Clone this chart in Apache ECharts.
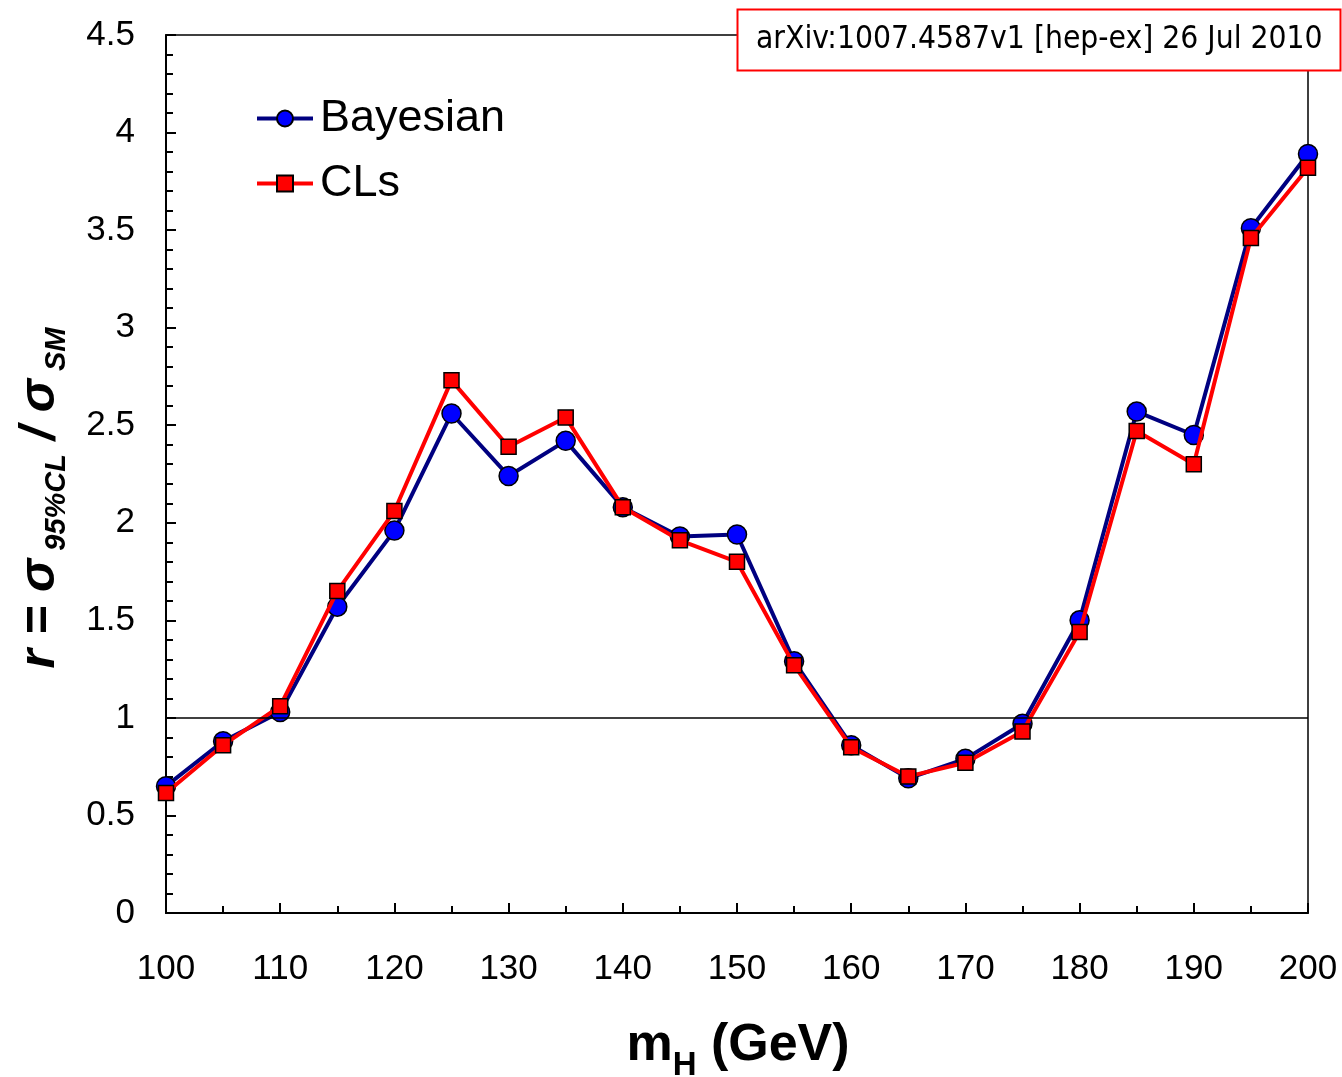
<!DOCTYPE html>
<html>
<head>
<meta charset="utf-8">
<script src="https://cdn.jsdelivr.net/npm/echarts@6/dist/echarts.min.js"></script>
<style>
html,body{margin:0;padding:0;background:#fff;}
#chart{width:1342px;height:1077px;}
</style>
</head>
<body>
<div id="chart"></div>
<script>
const massPoints = [100,105,110,115,120,125,130,135,140,145,150,155,160,165,170,175,180,185,190,195,200];
const bayesianValues = [0.65,0.88,1.03,1.57,1.96,2.56,2.24,2.42,2.08,1.93,1.94,1.29,0.86,0.69,0.79,0.97,1.50,2.57,2.45,3.51,3.89];
const clsValues = [0.615,0.86,1.06,1.65,2.06,2.73,2.39,2.54,2.08,1.91,1.80,1.27,0.85,0.70,0.77,0.93,1.44,2.47,2.30,3.46,3.82];
const seriesNames = ['Bayesian','CLs'];
const referenceLevel = 1;
const annotationText = 'arXiv:1007.4587v1 [hep-ex] 26 Jul 2010';

const chart = echarts.init(document.getElementById('chart'));
const pair = (xs, ys) => xs.map((x, i) => [x, ys[i]]);
const FONT = '"Liberation Sans", Arial, sans-serif';

chart.setOption({
  animation: false,
  backgroundColor: '#fff',
  grid: {left: 166, right: 34, top: 35, bottom: 164, show: true, borderColor: '#000', borderWidth: 1.5, backgroundColor: 'transparent'},
  legend: {
    orient: 'vertical', left: 250, top: 91,
    itemWidth: 56, itemHeight: 20, itemGap: 20,
    lineStyle: {width: 4},
    textStyle: {fontFamily: FONT, fontSize: 45, color: '#000', padding: [0,0,0,2]},
    data: seriesNames
  },
  xAxis: {
    type: 'value', min: 100, max: 200, interval: 10,
    axisLine: {onZero: false, lineStyle: {color: '#000', width: 2}},
    axisTick: {inside: true, length: 10, lineStyle: {color: '#000', width: 2}},
    minorTick: {show: true, splitNumber: 2, length: 7, lineStyle: {color: '#000', width: 2}},
    splitLine: {show: false},
    axisLabel: {fontFamily: FONT, fontSize: 35, color: '#000', margin: 39}
  },
  yAxis: {
    type: 'value', min: 0, max: 4.5, interval: 0.5,
    axisLine: {onZero: false, lineStyle: {color: '#000', width: 2}},
    axisTick: {inside: true, length: 10, lineStyle: {color: '#000', width: 2}},
    minorTick: {show: true, splitNumber: 5, length: 7, lineStyle: {color: '#000', width: 2}},
    splitLine: {show: false},
    axisLabel: {fontFamily: FONT, fontSize: 35, color: '#000', margin: 31}
  },
  series: [
    {
      name: seriesNames[0], type: 'line', data: pair(massPoints, bayesianValues),
      symbol: 'circle', symbolSize: 19,
      lineStyle: {color: '#000080', width: 4},
      itemStyle: {color: '#0000ff', borderColor: '#000', borderWidth: 1.5},
      markLine: {
        silent: true, symbol: 'none', label: {show: false},
        lineStyle: {color: '#000', width: 1.5, type: 'solid'},
        data: [{yAxis: referenceLevel}]
      },
      z: 3
    },
    {
      name: seriesNames[1], type: 'line', data: pair(massPoints, clsValues),
      symbol: 'rect', symbolSize: 15,
      lineStyle: {color: '#ff0000', width: 4},
      itemStyle: {color: '#ff0000', borderColor: '#000', borderWidth: 1.5},
      z: 4
    }
  ],
  graphic: [
    {
      type: 'rect', shape: {x: 737.5, y: 9.5, width: 603, height: 61},
      style: {fill: '#fff', stroke: '#ff0000', lineWidth: 2}, z: 100
    },
    {
      type: 'text', x: 756, y: 40, z: 101,
      style: {text: annotationText, fontFamily: '"DejaVu Sans Condensed","DejaVu Sans", sans-serif', fontSize: 31.5, fill: '#000', verticalAlign: 'middle', align: 'left'}
    },
    {
      type: 'text', x: 738, y: 1046, z: 101,
      style: {
        text: '{m|m}{h|H}{m| (GeV)}',
        align: 'center', verticalAlign: 'middle',
        rich: {
          m: {fontFamily: FONT, fontSize: 52, fontWeight: 'bold', fill: '#000', verticalAlign: 'bottom'},
          h: {fontFamily: FONT, fontSize: 33, fontWeight: 'bold', fill: '#000', verticalAlign: 'bottom', padding: [0,0,-10,0]}
        }
      }
    },
    {
      type: 'text', x: 40, y: 498, rotation: Math.PI / 2, z: 101,
      style: {
        text: '{b|r = σ}{s| 95%CL}{b| / σ}{s| SM}',
        align: 'center', verticalAlign: 'middle',
        rich: {
          b: {fontFamily: FONT, fontSize: 50, fontWeight: 'bold', fontStyle: 'italic', fill: '#000', verticalAlign: 'bottom'},
          s: {fontFamily: FONT, fontSize: 29, fontWeight: 'bold', fontStyle: 'italic', fill: '#000', verticalAlign: 'bottom', padding: [0,0,-6,0]}
        }
      }
    }
  ]
});
</script>
</body>
</html>
